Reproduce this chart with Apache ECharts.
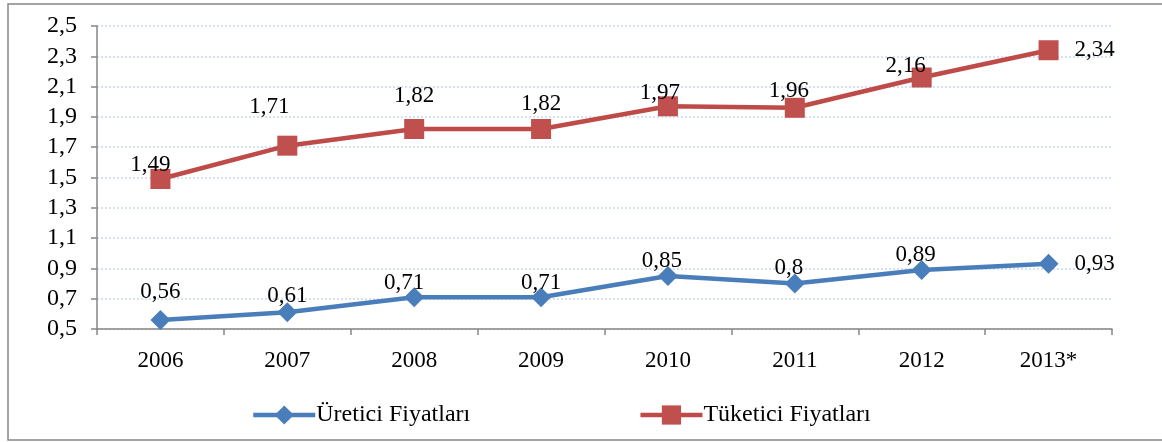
<!DOCTYPE html>
<html>
<head>
<meta charset="utf-8">
<script src="https://cdn.jsdelivr.net/npm/echarts@6/dist/echarts.min.js"></script>
<style>
  html, body { margin: 0; padding: 0; background: #fff; }
  #main { width: 1162px; height: 442px; }
</style>
</head>
<body>
<div id="main"></div>
<script>
// data
const years = ['2006', '2007', '2008', '2009', '2010', '2011', '2012', '2013*']
const ureticiValues = [0.56, 0.61, 0.71, 0.71, 0.85, 0.80, 0.89, 0.93]
const tuketiciValues = [1.49, 1.71, 1.82, 1.82, 1.97, 1.96, 2.16, 2.34]
const yTicks = [0.5, 0.7, 0.9, 1.1, 1.3, 1.5, 1.7, 1.9, 2.1, 2.3, 2.5]

// label placement tweaks per point (offset from default 'top' position), null = right side
const blueLabelOffsets = [[0, 2], [0, 13], [-10, 15], [0, 15], [-6, 14], [-6, 14], [-6, 15], null]
const redLabelOffsets = [[-10, 15], [-18, -9], [0, -4], [0, 4], [-8, 16], [-6, 13], [-16, 18], null]

const fmt = v => String(v).replace('.', ',')
const font = "'Liberation Serif', serif"

function buildData(values, offsets) {
    return values.map((v, i) => {
        const off = offsets[i]
        if (off === null) {
            return { value: v, label: { position: 'right', distance: 16 } }
        }
        return { value: v, label: { offset: off } }
    })
}

var myChart = echarts.init(document.getElementById('main'))
var option = {
    animation: false,
    textStyle: { fontFamily: font },
    graphic: [{
        type: 'rect',
        shape: { x: 8, y: 4, width: 1170, height: 436 },
        style: { fill: 'none', stroke: '#868686', lineWidth: 1.5 },
        silent: true
    }],
    grid: { left: 97, right: 50, top: 26, bottom: 113 },
    legend: {
        bottom: 10,
        left: 246,
        itemGap: 168,
        itemWidth: 62,
        itemHeight: 24,
        lineStyle: { width: 4.5 },
        textStyle: { fontFamily: font, fontSize: 24, color: '#000', padding: [0, 0, 0, -4] },
        data: ['Üretici Fiyatları', 'Tüketici Fiyatları']
    },
    xAxis: {
        type: 'category',
        data: years,
        boundaryGap: true,
        axisLine: { lineStyle: { color: '#868686', width: 1.5 } },
        axisTick: { show: true, length: 6, lineStyle: { color: '#868686', width: 1.5 } },
        axisLabel: { fontFamily: font, fontSize: 23, color: '#000', margin: 20 },
        splitLine: { show: false }
    },
    yAxis: {
        type: 'value',
        min: 0.5,
        max: 2.5,
        axisLine: { show: true, lineStyle: { color: '#868686', width: 1.5 } },
        axisTick: { show: true, length: 6, customValues: yTicks, lineStyle: { color: '#868686', width: 1.5 } },
        axisLabel: { fontFamily: font, fontSize: 24, color: '#000', margin: 20, customValues: yTicks, formatter: v => fmt(v) },
        splitLine: { show: true, lineStyle: { color: '#c6d9f1', type: [2, 2], width: 1.5 } }
    },
    series: [
        {
            name: 'Üretici Fiyatları',
            type: 'line',
            data: buildData(ureticiValues, blueLabelOffsets),
            symbol: 'diamond',
            symbolSize: 20,
            lineStyle: { color: '#4a7ebb', width: 4.5 },
            itemStyle: { color: '#4a7ebb' },
            label: {
                show: true, position: 'top', distance: 8,
                fontFamily: font, fontSize: 23, color: '#000',
                formatter: p => fmt(p.value)
            }
        },
        {
            name: 'Tüketici Fiyatları',
            type: 'line',
            data: buildData(tuketiciValues, redLabelOffsets),
            symbol: 'rect',
            symbolSize: 20,
            lineStyle: { color: '#be4b48', width: 4.5 },
            itemStyle: { color: '#c0504d' },
            label: {
                show: true, position: 'top', distance: 8,
                fontFamily: font, fontSize: 23, color: '#000',
                formatter: p => fmt(p.value)
            }
        }
    ]
}
myChart.setOption(option)
</script>
</body>
</html>
